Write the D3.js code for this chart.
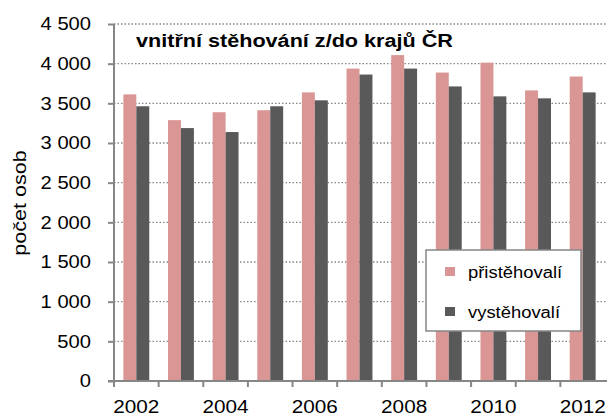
<!DOCTYPE html>
<html>
<head>
<meta charset="utf-8">
<script src="https://cdn.jsdelivr.net/npm/d3@7"></script>
<style>
  body { margin: 0; background: #fff; }
  svg text { font-family: "Liberation Sans", Arial, sans-serif; fill: #000; }
</style>
</head>
<body>
<svg id="chart" width="607" height="416"></svg>
<script>
var years = [2002, 2003, 2004, 2005, 2006, 2007, 2008, 2009, 2010, 2011, 2012];
var prist = [3613, 3288, 3388, 3413, 3638, 3938, 4108, 3888, 4013, 3663, 3838];
var vyst = [3463, 3188, 3138, 3463, 3538, 3863, 3938, 3713, 3588, 3563, 3638];
var seriesNames = ['přistěhovalí', 'vystěhovalí'];
var colors = ['#d99694', '#595959'];
var yTicks = [0, 500, 1000, 1500, 2000, 2500, 3000, 3500, 4000, 4500];
var xLabels = [2002, 2004, 2006, 2008, 2010, 2012];

var svg = d3.select('#chart'),
  mLeft = 114, mRight = 605, mTop = 24, mBottom = 381;

var x = d3.scaleBand().domain(years).range([mLeft, mRight]).paddingInner(0.42).paddingOuter(0.21);
var xs = d3.scaleBand().domain([0, 1]).range([0, x.bandwidth()]);
var y = d3.scaleLinear().domain([0, 4500]).range([mBottom, mTop]);
var fmt = function(d) { return d3.format(',')(d).replace(',', ' '); };

// stretch text a bit wider, like the original export
function widen(sel, k) {
  sel.each(function() {
    var w = this.getComputedTextLength();
    d3.select(this).attr('textLength', w * k).attr('lengthAdjust', 'spacingAndGlyphs');
  });
}

// gridlines
svg.append('g').selectAll('line')
  .data(yTicks.slice(1))
  .enter().append('line')
  .attr('x1', mLeft).attr('x2', 607)
  .attr('y1', function(d) { return y(d); })
  .attr('y2', function(d) { return y(d); })
  .attr('stroke', '#868686')
  .attr('stroke-width', 1.3)
  .attr('stroke-dasharray', '1.5,2');

// bars
var rows = years.map(function(yr, i) { return {year: yr, vals: [prist[i], vyst[i]]}; });
var grp = svg.append('g').selectAll('g')
  .data(rows)
  .enter().append('g')
  .attr('transform', function(d) { return 'translate(' + x(d.year) + ',0)'; });
grp.selectAll('rect')
  .data(function(d) { return d.vals; })
  .enter().append('rect')
  .attr('x', function(d, i) { return xs(i); })
  .attr('width', xs.bandwidth())
  .attr('y', function(d) { return y(d); })
  .attr('height', function(d) { return mBottom - y(d); })
  .attr('fill', function(d, i) { return colors[i]; });

// y axis
var yAxis = svg.append('g')
  .attr('transform', 'translate(' + mLeft + ',0)')
  .call(d3.axisLeft(y).tickValues(yTicks).tickFormat(fmt).tickSize(6).tickPadding(17));
yAxis.selectAll('path, line').attr('stroke', '#868686').attr('stroke-width', 2);
yAxis.select('.domain').attr('d', 'M0,' + mTop + 'V' + mBottom);
yAxis.selectAll('text').attr('font-size', 18).style('font-family', '"Liberation Sans", Arial, sans-serif').call(widen, 1.12);

// x axis
var xAxis = svg.append('g')
  .attr('transform', 'translate(0,' + mBottom + ')');
xAxis.append('line')
  .attr('x1', mLeft - 6).attr('x2', 607)
  .attr('stroke', '#868686').attr('stroke-width', 2);
xAxis.selectAll('.tk')
  .data(years)
  .enter().append('line')
  .attr('x1', function(d) { return x(d) - x.step() * 0.21; })
  .attr('x2', function(d) { return x(d) - x.step() * 0.21; })
  .attr('y1', 0).attr('y2', 6)
  .attr('stroke', '#868686').attr('stroke-width', 2);
xAxis.selectAll('.lbl')
  .data(xLabels)
  .enter().append('text')
  .attr('x', function(d) { return x(d) + x.bandwidth() / 2; })
  .attr('y', 32)
  .attr('text-anchor', 'middle')
  .attr('font-size', 18)
  .text(function(d) { return d; })
  .call(widen, 1.15);

// y title
svg.append('text')
  .attr('transform', 'translate(26,203)rotate(-90)')
  .attr('text-anchor', 'middle')
  .attr('font-size', 18)
  .text('počet osob')
  .call(widen, 1.2);

// chart title
svg.append('text')
  .attr('x', 136).attr('y', 47)
  .attr('font-size', 18)
  .attr('font-weight', 'bold')
  .text('vnitřní stěhování z/do krajů ČR')
  .call(widen, 1.2);

// legend
var lg = svg.append('g').attr('transform', 'translate(426,250)');
lg.append('rect')
  .attr('width', 155).attr('height', 81)
  .attr('fill', '#fff').attr('stroke', '#868686').attr('stroke-width', 1.5);
var li = lg.selectAll('.li')
  .data(seriesNames)
  .enter().append('g')
  .attr('transform', function(d, i) { return 'translate(19,' + (22 + i * 40) + ')'; });
li.append('rect')
  .attr('width', 10).attr('height', 9)
  .attr('y', -5)
  .attr('fill', function(d, i) { return colors[i]; });
li.append('text')
  .attr('x', 23).attr('y', 6)
  .attr('font-size', 16)
  .text(function(d) { return d; })
  .call(widen, 1.15);
</script>
</body>
</html>
